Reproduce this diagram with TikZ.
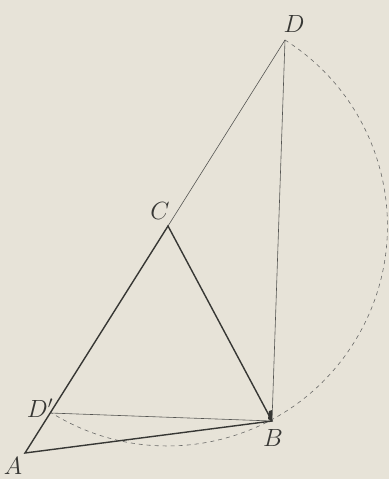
\documentclass[tikz,border=0pt]{standalone}
\usetikzlibrary{calc}
\definecolor{paper}{RGB}{231,227,216}
\definecolor{ink}{RGB}{55,55,52}
\begin{document}
\begin{tikzpicture}[x=1pt,y=-1pt,
  thickline/.style={draw=ink,line width=1.4pt},
  thinline/.style={draw=ink!85,line width=0.6pt},
  dashline/.style={draw=ink!75,line width=0.6pt,dash pattern=on 4pt off 4pt},
  lbl/.style={text=ink,font=\fontsize{24}{24}\selectfont,inner sep=0pt}]
\fill[paper] (0,0) rectangle (389,479);
\useasboundingbox (0,0) rectangle (389,479);
\coordinate (A) at (25,453);
\coordinate (Dp) at (50,413);
\coordinate (B) at (272,421);
\coordinate (C) at (168,226);
\coordinate (D) at (285,40);
% dashed circle centred at C through D, D', B
\draw[dashline] (D) arc[start angle=-57.7,end angle=122.1,radius=220];
\draw[thinline] (C) -- (D);
\draw[thinline] (D) -- (B);
\draw[thinline] (Dp) -- (B);
\draw[thickline] (A) -- (C) -- (B) -- cycle;
\fill[ink] (B) -- ++(-4,-2) -- ++(1,-8) -- ++(3,-1) -- cycle;
\node[lbl] (lA) at (13,466) {$A$};
\node[lbl] (lB) at (273,438) {$B$};
\node[lbl] (lC) at (160,211) {$C$};
\node[lbl] (lD) at (294,24) {$D$};
\node[lbl] (lDp) at (40,408) {$D'$};
\end{tikzpicture}
\end{document}
